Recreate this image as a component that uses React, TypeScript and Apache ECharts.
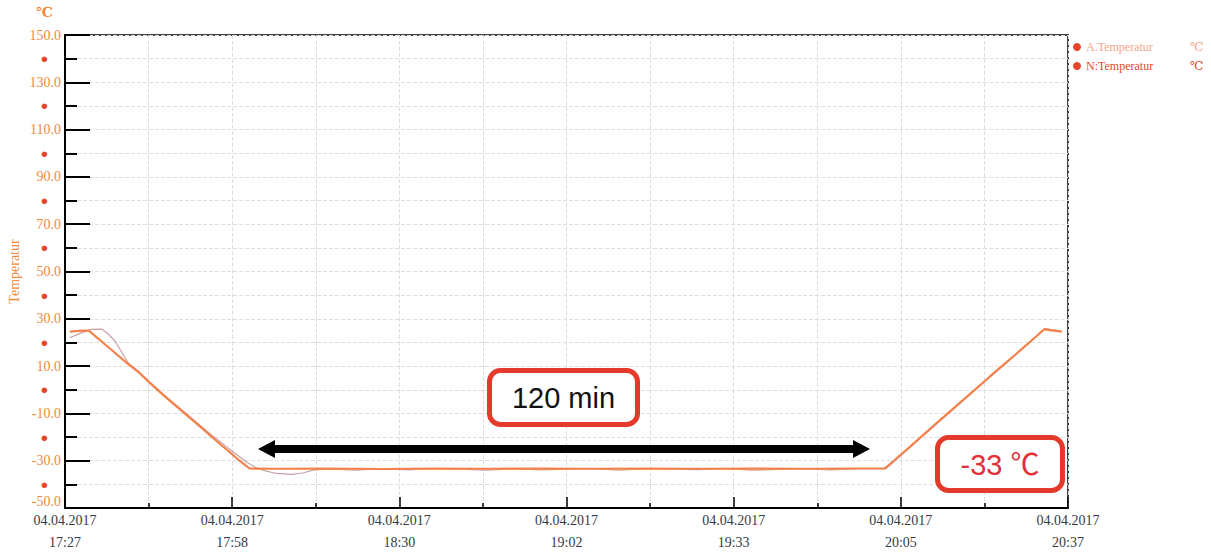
import React, { useEffect, useRef } from 'react';
import * as echarts from 'echarts';

// x positions in minutes after 17:27
const xTickDates = ['04.04.2017', '04.04.2017', '04.04.2017', '04.04.2017', '04.04.2017', '04.04.2017', '04.04.2017'];
const xTickTimes = ['17:27', '17:58', '18:30', '19:02', '19:33', '20:05', '20:37'];
const yTickLabels = ['-50.0', '●', '-30.0', '●', '-10.0', '●', '10.0', '●', '30.0', '●', '50.0', '●', '70.0', '●', '90.0', '●', '110.0', '●', '130.0', '●', '150.0'];

const seriesNames = ['A.Temperatur', 'N:Temperatur'];

const timesN = [0.9, 2, 3.5, 4.5, 8, 10, 12, 14, 16, 18, 20, 22, 24, 26, 28, 30, 31, 33, 35, 40, 50, 60, 70, 80, 90, 100, 110, 120, 130, 140, 150, 155.3, 160, 165, 170, 175, 180, 183, 185.5, 186.5, 188.8];
const tempN = [24.6, 24.8, 25.0, 25.0, 18.4, 14.6, 10.8, 7.3, 3.1, -1.0, -4.9, -8.7, -12.5, -16.4, -20.3, -24.1, -26.0, -29.9, -33.3, -33.4, -33.3, -33.5, -33.3, -33.4, -33.3, -33.4, -33.3, -33.4, -33.3, -33.4, -33.3, -33.3, -24.2, -14.3, -4.6, 5.2, 14.8, 20.6, 25.6, 25.2, 24.6];

const timesA = [0.9, 2.5, 4, 5, 7, 8, 9.5, 12, 14, 16, 20, 24, 28, 31, 33, 34.5, 36.5, 38, 40, 43, 45, 47, 50, 55, 60, 65, 70, 80, 85, 90, 100, 105, 110, 120, 125, 130, 140, 145, 150, 155.5, 160, 165, 170, 175, 180, 185, 186, 188.8];
const tempA = [22.0, 23.5, 24.8, 25.5, 25.6, 24.0, 20.5, 11.2, 7.6, 3.2, -4.5, -12.0, -19.5, -24.8, -28.2, -30.8, -33.3, -34.3, -35.4, -35.8, -35.2, -34.0, -33.5, -34.0, -33.4, -33.9, -33.3, -34.0, -33.4, -33.9, -33.3, -34.0, -33.4, -33.8, -33.3, -34.0, -33.4, -33.9, -33.4, -33.4, -24.5, -14.6, -4.8, 5.0, 14.6, 24.6, 25.8, 24.8];

const SEC = 60;
const X_STEP = 1900; // seconds between major ticks

const ORANGE = '#ef8a3c';
const RED_DOT = '#e8452a';
const SERIF = '"Liberation Serif", "DejaVu Serif", serif';
const SANS = '"Liberation Sans", Arial, "Noto Sans CJK KR", sans-serif';

export default function App() {
  const ref = useRef<HTMLDivElement>(null);
  useEffect(() => {
    if (!ref.current) return;
    const chart = echarts.init(ref.current, undefined, { renderer: 'svg' });
    const dataN = timesN.map((t, i) => [t * SEC, tempN[i]]);
    const dataA = timesA.map((t, i) => [t * SEC, tempA[i]]);
    chart.setOption({
      animation: false,
      backgroundColor: '#ffffff',
      grid: {
        left: 65, right: 143, top: 35, bottom: 46,
        outerBoundsMode: 'none', containLabel: false,
        show: true, borderColor: '#000', borderWidth: 1.5, backgroundColor: 'transparent',
      },
      legend: {
        orient: 'vertical',
        left: 1068,
        top: 36,
        icon: 'circle',
        itemWidth: 8,
        itemHeight: 8,
        itemGap: 7,
        data: [
          { name: seriesNames[0], itemStyle: { color: RED_DOT }, textStyle: { color: '#f2a58c' } },
          { name: seriesNames[1], itemStyle: { color: RED_DOT }, textStyle: { color: '#e24a26' } },
        ],
        formatter: (name: string) => `{t|${name}}{u|℃}`,
        textStyle: {
          fontFamily: SERIF,
          fontSize: 12,
          rich: {
            t: { width: 104, fontFamily: SERIF, fontSize: 12 },
            u: { fontFamily: SERIF, fontSize: 12 },
          },
        },
      },
      xAxis: {
        type: 'value',
        min: 0,
        max: 190 * SEC,
        interval: X_STEP,
        axisLine: { show: true, onZero: false, lineStyle: { color: '#000', width: 2 } },
        axisTick: { show: true, inside: true, length: 11, lineStyle: { color: '#000', width: 1.5 } },
        minorTick: { show: true, splitNumber: 2, length: 5, lineStyle: { color: '#000', width: 1.5 } },
        splitLine: { show: true, lineStyle: { color: '#dedede', type: 'dashed', width: 1 } },
        minorSplitLine: { show: true, lineStyle: { color: '#dedede', type: 'dashed', width: 1 } },
        axisLabel: {
          margin: 1,
          fontFamily: SERIF,
          fontSize: 14,
          color: '#353b46',
          lineHeight: 22,
          formatter: (v: number) => {
            const i = Math.round(v / X_STEP);
            return `${xTickDates[i] ?? ''}\n${xTickTimes[i] ?? ''}`;
          },
        },
      },
      yAxis: [
        {
          type: 'value',
          min: -50,
          max: 150,
          interval: 10,
          position: 'left',
          axisLine: { show: true, onZero: false, lineStyle: { color: '#000', width: 2 } },
          axisTick: { show: true, inside: true, length: 12, lineStyle: { color: '#000', width: 2 } },
          splitLine: { show: true, lineStyle: { color: '#dedede', type: 'dashed', width: 1 } },
          axisLabel: {
            margin: 4,
            fontFamily: SERIF,
            fontSize: 14,
            color: ORANGE,
            verticalAlignMinLabel: 'bottom',
            formatter: (v: number) => {
              const s = yTickLabels[Math.round((v + 50) / 10)] ?? '';
              return s === '●' ? `{d|●}` : s;
            },
            rich: {
              d: { color: RED_DOT, fontSize: 13, width: 33, align: 'center' },
            },
          },
        },
        {
          type: 'value',
          min: 0,
          max: 200,
          interval: 20,
          position: 'left',
          name: 'Temperatur',
          nameLocation: 'middle',
          nameGap: 44,
          nameRotate: 90,
          nameTextStyle: { fontFamily: SERIF, fontSize: 14, color: ORANGE },
          axisLine: { show: false, onZero: false },
          axisTick: { show: true, inside: true, length: 25, lineStyle: { color: '#000', width: 2 } },
          splitLine: { show: false },
          axisLabel: { show: false },
        },
      ],
      series: [
        {
          name: seriesNames[0],
          type: 'line',
          data: dataA,
          showSymbol: false,
          symbol: 'none',
          lineStyle: { color: '#c9a1a4', width: 1.2 },
          itemStyle: { color: '#c9a1a4' },
          z: 2,
        },
        {
          name: seriesNames[1],
          type: 'line',
          data: dataN,
          showSymbol: false,
          symbol: 'none',
          lineStyle: { color: '#f5814a', width: 2.2 },
          itemStyle: { color: '#f5814a' },
          z: 3,
        },
      ],
      graphic: [
        { type: 'text', left: 36, top: 5, style: { text: '℃', fontFamily: SERIF, fontSize: 14, fontWeight: 'bold', fill: ORANGE }, z: 100 },
        // double arrow
        { type: 'line', shape: { x1: 272, y1: 449, x2: 856, y2: 449 }, style: { stroke: '#000', lineWidth: 8 }, z: 100 },
        { type: 'polygon', shape: { points: [[258, 449], [275, 440], [275, 458]] }, style: { fill: '#000' }, z: 100 },
        { type: 'polygon', shape: { points: [[870, 449], [853, 440], [853, 458]] }, style: { fill: '#000' }, z: 100 },
        // 120 min box
        { type: 'rect', shape: { x: 489.5, y: 370.5, width: 148, height: 54, r: 11 }, style: { fill: '#fff', stroke: '#e5392c', lineWidth: 5 }, z: 100 },
        { type: 'text', x: 563.5, y: 398, style: { text: '120 min', fontFamily: SANS, fontSize: 29, fill: '#111', align: 'center', verticalAlign: 'middle' }, z: 101 },
        // -33 box
        { type: 'rect', shape: { x: 937.5, y: 437.5, width: 125, height: 53, r: 11 }, style: { fill: '#fff', stroke: '#e5392c', lineWidth: 5 }, z: 100 },
        { type: 'text', x: 1000, y: 465, style: { text: '-33 ℃', fontFamily: SANS, fontSize: 29, fill: '#e0303a', align: 'center', verticalAlign: 'middle' }, z: 101 },
      ],
    });
    return () => chart.dispose();
  }, []);
  return <div ref={ref} style={{ position: 'fixed', left: 0, top: 0, width: 1211, height: 554 }} />;
}
